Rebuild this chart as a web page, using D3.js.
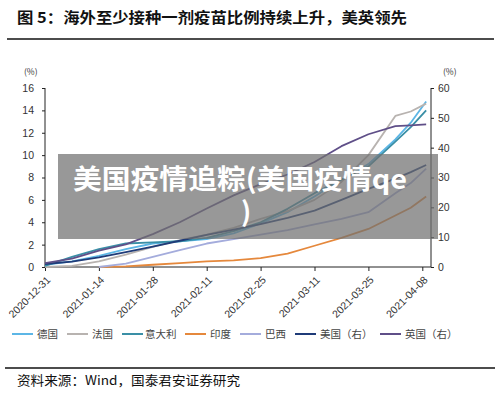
<!DOCTYPE html>
<html><head><meta charset="utf-8">
<script src="https://cdn.jsdelivr.net/npm/d3@7"></script>
<style>
html,body{margin:0;padding:0;background:#fff;}
svg{display:block;}
</style></head>
<body>
<svg id="c" width="500" height="394"></svg>
<script>
// ---- data ----
const dates = ["2020-12-31","2021-01-07","2021-01-14","2021-01-21","2021-01-28","2021-02-04","2021-02-11","2021-02-18","2021-02-25","2021-03-04","2021-03-11","2021-03-18","2021-03-25","2021-04-01","2021-04-05","2021-04-09"];
const tickDates = ["2020-12-31","2021-01-14","2021-01-28","2021-02-11","2021-02-25","2021-03-11","2021-03-25","2021-04-08"];
const leftTicks = [0,2,4,6,8,10,12,14,16];
const rightTicks = [0,10,20,30,40,50,60];
const germany = [0.2,0.5,1.0,1.6,2.1,2.3,2.5,3.0,3.9,4.9,6.3,7.8,9.2,11.4,12.9,14.8];
const france  = [0.0,0.1,0.5,1.1,1.8,2.4,2.9,3.5,4.3,5.0,6.0,7.6,10.0,13.5,13.9,14.6];
const italy   = [0.1,0.9,1.6,2.1,2.2,2.3,2.6,3.2,4.0,5.2,6.6,7.8,9.0,11.2,12.5,14.0];
const india   = [null,null,0,0.05,0.2,0.35,0.5,0.6,0.8,1.2,1.9,2.6,3.4,4.6,5.3,6.3];
const brazil  = [null,null,0,0.3,0.9,1.5,2.1,2.5,2.9,3.3,3.8,4.3,4.9,6.6,7.5,8.8];
const usa     = [1.0,1.8,3.2,5.0,6.8,8.8,10.8,12.5,14.4,16.5,18.9,22.5,26.2,29.6,31.8,34.2];
const uk      = [1.3,2.8,5.5,7.6,11.0,15.0,19.6,24.0,27.8,31.0,35.2,40.5,44.5,47.2,47.5,47.8];
const seriesNames = ["德国","法国","意大利","印度","巴西","美国（右）","英国（右）"];
const seriesColors = ["#5cb6e6","#b8b3b0","#3a8fa6","#e5883c","#a4acdc","#1f3b78","#5f4f88"];

const series = [
  {name:seriesNames[0], vals:germany, axis:"L", color:seriesColors[0]},
  {name:seriesNames[1], vals:france,  axis:"L", color:seriesColors[1]},
  {name:seriesNames[2], vals:italy,   axis:"L", color:seriesColors[2]},
  {name:seriesNames[3], vals:india,   axis:"L", color:seriesColors[3]},
  {name:seriesNames[4], vals:brazil,  axis:"L", color:seriesColors[4]},
  {name:seriesNames[5], vals:usa,     axis:"R", color:seriesColors[5]},
  {name:seriesNames[6], vals:uk,      axis:"R", color:seriesColors[6]}
];

const parse = d3.timeParse("%Y-%m-%d");
const fmt = d3.timeFormat("%Y-%m-%d");
const svg = d3.select("#c");
const CJK = "'Noto Sans CJK SC', sans-serif";
const LAT = "'Liberation Sans', Arial, sans-serif";

const x = d3.scaleTime().domain([parse("2020-12-31"), parse("2021-04-10")]).range([45, 430]);
const yL = d3.scaleLinear().domain([0,16]).range([267, 88]);
const yR = d3.scaleLinear().domain([0,60]).range([267, 88]);

// title
svg.append("text").attr("x",17).attr("y",23)
  .attr("font-family",CJK).attr("font-weight",700).attr("font-size",15).attr("fill","#111")
  .attr("textLength",390).attr("lengthAdjust","spacingAndGlyphs")
  .text("图 5：海外至少接种一剂疫苗比例持续上升，美英领先");
svg.append("line").attr("x1",7).attr("x2",494).attr("y1",39).attr("y2",39).attr("stroke","#111").attr("stroke-width",1.5);

// axes
const gL = svg.append("g").attr("transform","translate(45,0)")
  .call(d3.axisLeft(yL).tickValues(leftTicks).tickSize(3).tickPadding(8));
const gR = svg.append("g").attr("transform","translate(431,0)")
  .call(d3.axisRight(yR).tickValues(rightTicks).tickSize(3).tickPadding(4));
const gX = svg.append("g").attr("transform","translate(0,267)")
  .call(d3.axisBottom(x).tickValues(tickDates.map(parse)).tickSize(4).tickFormat(fmt));
[gL,gR,gX].forEach(g=>{
  g.select(".domain").attr("stroke","#222").attr("stroke-width",1);
  g.selectAll(".tick line").attr("stroke","#222");
  g.selectAll("text").attr("font-family",LAT).attr("font-size",10.5).attr("fill","#333");
});
gL.select(".domain").attr("d","M0,88V267");
gR.select(".domain").attr("d","M0,88V267");
gX.select(".domain").attr("d","M45,0H431");
gX.selectAll(".tick text")
  .attr("text-anchor","end").attr("dy","0.35em").attr("y",0)
  .attr("transform","translate(3,11) rotate(-45)");

svg.append("text").attr("x",24).attr("y",75).attr("font-family",CJK).attr("font-size",8.5).attr("fill","#333").text("(%)");
svg.append("text").attr("x",443).attr("y",75).attr("font-family",CJK).attr("font-size",8.5).attr("fill","#333").text("(%)");

// lines
const dt = dates.map(parse);
series.forEach(s=>{
  const ys = s.axis==="L" ? yL : yR;
  const line = d3.line().defined(d=>d[1]!=null).x(d=>x(d[0])).y(d=>ys(d[1])).curve(d3.curveLinear);
  svg.append("path").datum(dt.map((d,i)=>[d,s.vals[i]]))
    .attr("d",line).attr("fill","none").attr("stroke",s.color).attr("stroke-width",1.8)
    .attr("stroke-linejoin","round");
});

// watermark overlay
svg.append("rect").attr("x",58).attr("y",154).attr("width",380).attr("height",85)
  .attr("fill","rgb(112,112,112)").attr("fill-opacity",0.72);
svg.append("text").attr("x",73).attr("y",189)
  .attr("font-family",CJK).attr("font-weight",700).attr("font-size",27).attr("fill","#fff")
  .attr("textLength",334).attr("lengthAdjust","spacingAndGlyphs")
  .text("美国疫情追粽(美国疫情qe");
svg.append("text").attr("x",246).attr("y",222).attr("text-anchor","middle")
  .attr("font-family",CJK).attr("font-weight",700).attr("font-size",27).attr("fill","#fff")
  .text(")");

// legend
const legX = [[12,37],[67,92],[122,145],[185,210],[240,265],[295,320],[380,405]];
series.forEach((s,i)=>{
  svg.append("line").attr("x1",legX[i][0]).attr("x2",legX[i][0]+21).attr("y1",334).attr("y2",334)
    .attr("stroke",s.color).attr("stroke-width",2);
  svg.append("text").attr("x",legX[i][1]).attr("y",338).attr("font-family",CJK).attr("font-size",10.5)
    .attr("fill","#444").text(s.name);
});

// footer
svg.append("line").attr("x1",5).attr("x2",495).attr("y1",368).attr("y2",368).attr("stroke","#111").attr("stroke-width",1.5);
svg.append("text").attr("x",17).attr("y",385).attr("font-family",CJK).attr("font-size",13).attr("fill","#111")
  .attr("textLength",223).attr("lengthAdjust","spacingAndGlyphs")
  .text("资料来源：Wind，国泰君安证券研究");
</script>
</body></html>
